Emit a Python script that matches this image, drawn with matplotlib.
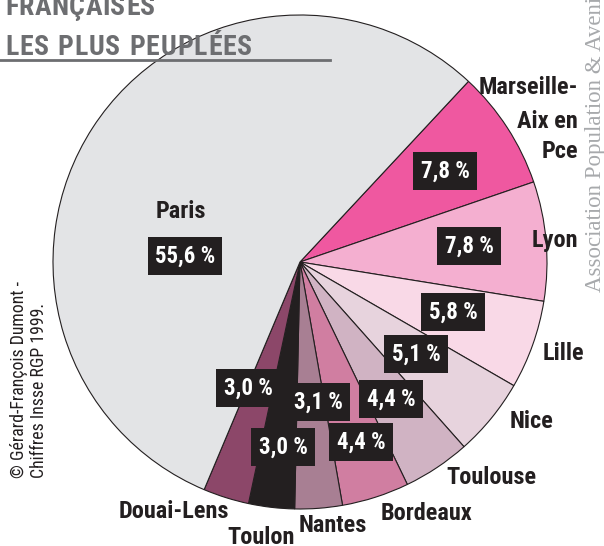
import matplotlib
matplotlib.use("Agg")
import matplotlib.pyplot as plt
from matplotlib.lines import Line2D

# ---- data ----
cities = ["Marseille-Aix en Pce", "Lyon", "Lille", "Nice", "Toulouse",
          "Bordeaux", "Nantes", "Toulon", "Douai-Lens", "Paris"]
shares = [7.8, 7.8, 5.8, 5.1, 4.4, 4.4, 3.1, 3.0, 3.0, 55.6]
pct_labels = ["7,8 %", "7,8 %", "5,8 %", "5,1 %", "4,4 %",
              "4,4 %", "3,1 %", "3,0 %", "3,0 %", "55,6 %"]
colors = ["#ef58a0", "#f4afd0", "#f9d9e7", "#e7d3dd", "#d0b3c3",
          "#d07ea1", "#a87f93", "#231f20", "#8c4769", "#e3e4e6"]

W, H = 604, 546
fig = plt.figure(figsize=(W / 100, H / 100), dpi=100)
ax = fig.add_axes([0, 0, 1, 1])

def Y(py):
    return H - py

COND = ["Roboto Condensed", "DejaVu Sans"]
DARK = "#231f20"
GREY = "#6d6e71"

# pie
cx, cy, R = 300, 262, 247
ax.pie(shares, colors=colors, startangle=47, counterclock=False,
       center=(cx, Y(cy)), radius=R, frame=True,
       wedgeprops=dict(edgecolor=DARK, linewidth=0.8))
ax.set_xlim(0, W)
ax.set_ylim(0, H)
ax.set_aspect("equal")
ax.axis("off")

# percentage boxes (pixel centres)
pct_pos = [(445, 171), (469, 246), (453, 312), (416, 354), (391, 399),
           (361, 442), (318, 402), (283, 447), (248, 388), (185, 256)]
for (px, py), lab in zip(pct_pos, pct_labels):
    ax.text(px, Y(py), lab, ha="center", va="center", color="white",
            fontsize=16.5, fontweight="bold", family=COND,
            bbox=dict(boxstyle="square,pad=0.32", fc=DARK, ec="none"))

# city labels
city_txt = [
    ("Marseille-", 578, 88, "right"),
    ("Aix en", 578, 122, "right"),
    ("Pce", 578, 151, "right"),
    ("Lyon", 578, 240, "right"),
    ("Lille", 563, 353, "center"),
    ("Nice", 532, 421, "center"),
    ("Toulouse", 491, 477, "center"),
    ("Bordeaux", 427, 513, "center"),
    ("Nantes", 333, 526, "center"),
    ("Toulon", 261, 537, "center"),
    ("Douai-Lens", 174, 512, "center"),
    ("Paris", 181, 211, "center"),
]
for s, px, py, ha in city_txt:
    ax.text(px, Y(py), s, ha=ha, va="center", color=DARK, fontsize=17.5,
            fontweight="bold", family=COND)

# title with letter spacing
fig.canvas.draw()
renderer = fig.canvas.get_renderer()

def spaced(x0, x1, base_py, s, size):
    arts, widths = [], []
    for ch in s:
        if ch == " ":
            arts.append(None)
            widths.append(size * 1.39 * 0.25)
            continue
        t = ax.text(0, Y(base_py), ch, ha="left", va="baseline", color=GREY,
                    fontsize=size, fontweight="bold", family=COND)
        arts.append(t)
        widths.append(t.get_window_extent(renderer).width)
    gap = ((x1 - x0) - sum(widths)) / (len(s) - 1)
    x = x0
    for a, w in zip(arts, widths):
        if a is not None:
            a.set_x(x)
        x += w + gap

spaced(5, 155, 15, "FRANÇAISES", 20)
spaced(5, 252, 55, "LES PLUS PEUPLÉES", 20)
ax.add_line(Line2D([0, 330], [Y(60), Y(60)], color=GREY, linewidth=2))

# side texts
ax.text(595, Y(292), "Association Population & Avenir", rotation=90,
        ha="center", va="bottom", color="#a7a9ac", fontsize=16.5,
        family=["Liberation Serif", "DejaVu Serif"])
ax.text(29, Y(478), "© Gérard-François Dumont -\nChiffres Insse RGP 1999.",
        rotation=90, ha="center", va="bottom", multialignment="left",
        color=DARK, fontsize=12.8, family=COND, linespacing=1.1)

fig.savefig("out.png", dpi=100)
